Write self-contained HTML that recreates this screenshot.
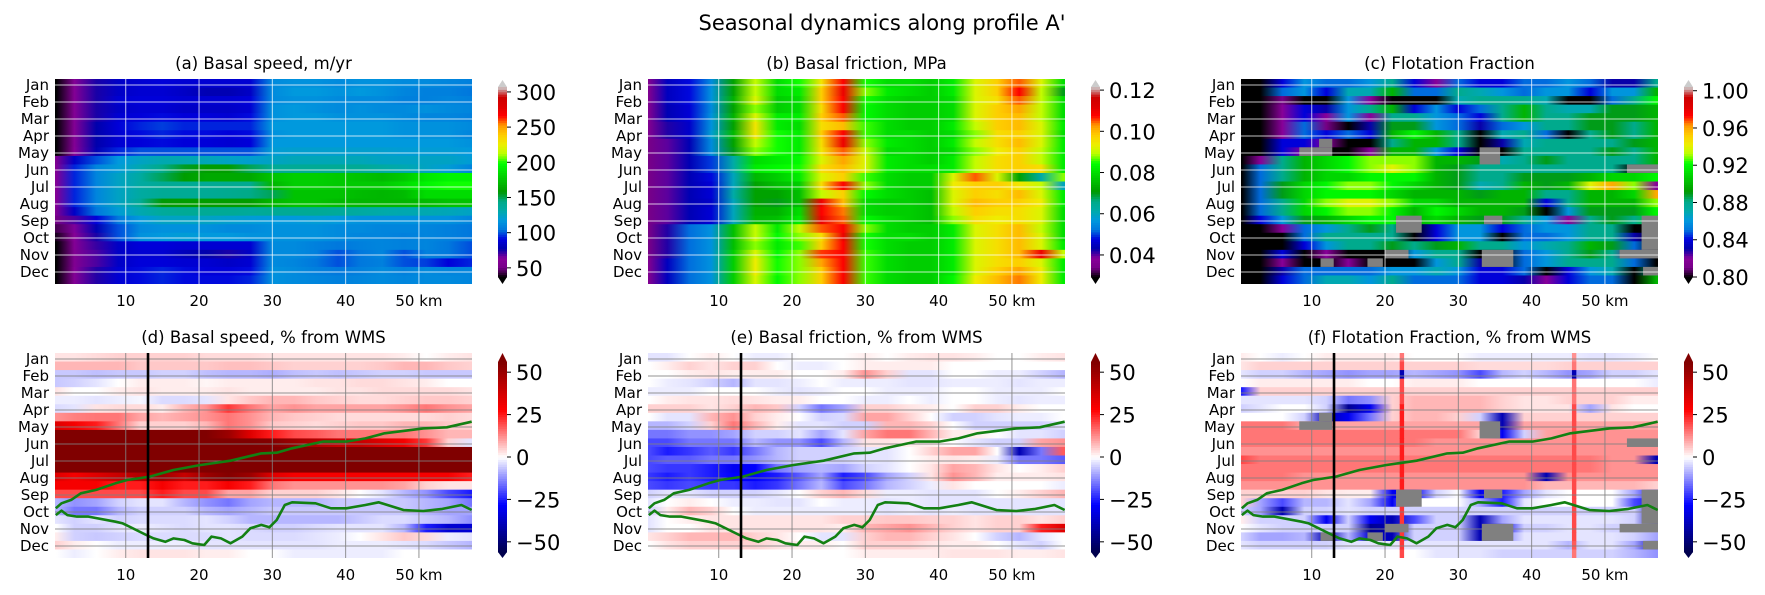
<!DOCTYPE html>
<html><head><meta charset="utf-8"><style>
html,body{margin:0;padding:0;background:#fff;}
svg{display:block;font-family:"DejaVu Sans","Liberation Sans",sans-serif;}
</style></head><body>
<svg id="fig" width="1765" height="595" viewBox="0 0 1765 595" xmlns="http://www.w3.org/2000/svg">
<text x="882" y="30" text-anchor="middle" font-size="21">Seasonal dynamics along profile A'</text>
</svg>
<script>
// ---------- data ----------
const months = ["Jan","Feb","Mar","Apr","May","Jun","Jul","Aug","Sep","Oct","Nov","Dec"];
const kmTicks = [10,20,30,40,50];
const kmTickLabels = ["10","20","30","40","50 km"];
const colKm = [0.5,3,6,9,12,15,18,21,24,27,30,33,36,39,42,45,48,51,54,57];

const speedA = [
[34,60,75,85,88,90,88,88,88,88,112,115,115,112,115,115,112,112,110,108],
[34,60,75,85,88,88,85,80,80,85,112,118,118,115,118,115,110,108,108,105],
[34,60,75,88,90,90,88,88,88,90,112,115,115,112,112,112,108,108,110,108],
[34,60,75,85,88,88,85,85,85,88,115,118,115,112,115,112,112,115,112,110],
[34,60,75,88,90,92,90,90,88,92,115,118,118,115,115,115,112,110,110,108],
[34,60,78,90,95,98,95,95,95,95,118,118,118,118,118,118,115,115,115,112],
[34,60,78,88,92,95,92,92,90,92,115,118,118,118,118,118,115,115,115,110],
[34,60,78,88,90,92,90,90,88,90,118,118,118,118,118,118,118,118,118,115],
[36,62,80,95,100,100,100,100,100,100,120,122,122,122,122,122,120,120,120,118],
[55,85,100,118,125,130,130,128,125,122,125,128,128,128,128,125,125,125,125,120],
[58,95,110,120,130,145,155,160,160,150,140,140,140,140,140,135,130,125,120,110],
[60,95,110,125,135,150,160,165,165,165,175,180,180,178,175,172,178,190,195,195],
[60,95,110,125,135,140,140,140,142,142,170,180,180,178,178,178,185,195,200,200],
[60,95,110,125,135,140,140,140,142,145,150,175,175,175,172,170,172,185,185,185],
[60,95,110,125,140,158,160,160,160,160,170,175,175,172,170,170,170,172,175,175],
[58,85,105,120,130,138,140,140,140,138,140,140,140,138,135,132,130,130,128,125],
[50,70,90,105,118,125,125,125,122,120,118,118,120,118,115,115,115,115,115,110],
[45,65,80,100,112,115,115,115,112,112,115,115,115,112,112,110,110,110,108,105],
[40,62,75,100,115,118,120,118,118,115,115,115,115,112,110,110,108,110,108,105],
[34,60,72,85,90,90,88,88,88,88,112,112,108,105,108,110,108,110,105,100],
[34,58,70,85,88,88,82,78,75,85,112,112,108,100,105,110,100,108,105,100],
[34,58,70,85,90,90,88,88,85,88,112,110,105,100,105,108,100,98,90,95],
[34,60,74,88,92,95,92,90,90,92,115,112,108,105,108,112,108,112,110,110],
[34,60,74,88,92,95,92,92,92,95,115,112,110,108,110,112,110,112,112,110]];

// basal friction in kPa (0.001 MPa)
const frictionB = [
[36,45,48,55,72,90,80,85,95,108,85,80,80,78,82,92,98,105,92,80],
[36,45,48,56,72,90,80,82,98,110,88,82,80,78,82,92,98,108,90,70],
[36,45,48,56,74,92,78,80,98,108,85,80,78,78,80,92,96,105,90,80],
[36,44,47,55,72,88,78,80,96,108,84,80,78,78,80,92,98,102,90,80],
[36,44,47,56,74,92,82,82,98,105,84,80,78,78,80,92,98,100,90,80],
[36,42,46,56,72,95,82,80,96,100,86,80,78,78,82,90,98,100,92,82],
[36,42,46,58,75,95,85,82,98,108,86,80,80,78,80,88,96,98,92,80],
[34,40,44,55,72,90,85,82,96,110,88,82,80,78,82,90,96,100,92,82],
[34,40,44,55,70,88,85,82,95,105,90,80,80,78,80,88,94,98,90,82],
[34,40,44,50,62,80,82,84,92,102,92,82,80,78,82,90,96,98,90,82],
[34,40,44,50,62,82,84,85,96,100,92,82,80,80,82,90,96,98,96,82],
[34,40,44,48,60,75,78,82,92,98,86,80,78,78,92,105,92,72,62,88],
[34,40,44,47,60,72,76,78,96,108,88,80,78,78,94,98,98,95,90,60],
[34,40,44,47,62,72,72,76,90,98,84,80,78,76,92,98,96,100,92,82],
[34,40,44,46,60,72,70,76,110,100,80,78,78,76,92,100,98,98,94,82],
[34,40,44,47,60,74,74,80,108,104,80,78,78,76,90,98,96,96,92,80],
[34,40,44,47,60,75,76,82,110,105,84,80,78,76,88,96,94,96,92,80],
[34,42,52,56,76,90,82,90,105,108,88,80,78,78,82,92,96,100,90,80],
[34,42,52,56,76,90,84,88,96,110,85,80,80,78,82,92,96,100,92,80],
[34,42,52,56,76,88,82,86,98,108,85,80,78,78,82,92,96,100,92,82],
[34,42,52,56,78,92,84,88,106,108,86,80,78,78,82,92,96,100,110,90],
[36,45,52,56,78,94,85,88,102,108,86,80,78,78,82,92,96,98,92,82],
[36,45,52,56,78,94,85,88,98,108,86,80,78,78,82,92,98,102,94,82],
[36,45,52,56,78,92,84,88,98,108,86,80,78,78,84,94,100,104,94,82]];

// flotation fraction in percent
const flotC = [
[78,78,84,86,85,85,86,88,84,82,85,84,84,85,85,86,85,83,83,88],
[78,78,85,86,84,87,87,90,85,85,88,87,86,85,86,86,84,86,86,90],
[78,78,81,78,78,86,82,78,78,78,87,88,88,88,87,78,78,85,88,92],
[78,78,82,84,83,86,88,90,84,86,84,85,88,90,88,87,87,89,89,90],
[78,78,82,84,82,86,82,88,88,86,85,84,88,90,88,88,89,89,89,90],
[78,78,82,85,81,79,83,89,89,86,85,83,85,86,88,88,89,89,88,90],
[78,78,82,85,84,85,84,90,92,90,88,79,87,88,85,78,88,89,88,90],
[78,78,84,84,82,79,79,88,90,90,88,79,83,87,88,88,88,88,89,90],
[78,78,84,82,79,79,82,90,90,86,84,79,79,88,88,88,88,89,88,90],
[78,82,88,90,91,92,93,93,93,90,90,89,87,88,89,88,88,88,88,90],
[78,85,88,90,91,92,93,94,93,90,89,88,88,88,88,88,88,88,80,88],
[78,85,88,90,91,91,92,92,92,90,89,88,88,89,89,89,90,91,91,92],
[78,85,89,91,92,93,93,92,91,90,89,87,88,90,89,90,94,96,93,82],
[78,85,89,91,92,92,92,91,90,90,90,89,90,90,88,88,90,90,91,96],
[78,85,88,91,93,94,94,93,91,91,90,90,90,90,84,88,90,90,90,93],
[78,85,88,91,92,93,93,92,90,92,91,90,90,89,79,86,89,89,89,92],
[78,84,86,89,90,91,92,92,90,91,90,89,89,88,86,82,88,89,88,91],
[78,80,82,85,86,88,89,88,79,84,86,86,84,85,86,86,88,88,80,79],
[78,78,80,85,88,88,88,88,80,84,86,86,78,85,85,86,88,88,83,79],
[78,78,80,84,86,88,88,89,88,89,90,88,88,86,87,88,90,89,85,79],
[78,78,84,79,82,79,79,78,86,88,88,80,78,85,86,88,89,88,82,79],
[78,78,82,79,80,82,79,78,79,86,88,83,79,85,86,88,88,88,85,80],
[78,78,83,85,85,85,85,86,86,87,86,84,84,85,78,84,86,87,80,88],
[78,78,84,85,87,87,86,88,85,85,85,84,84,83,82,84,85,85,80,90]];

const speedPct = [
[3,3,4,5,5,5,5,4,4,4,3,3,3,3,3,3,2,0,2,3],
[8,8,8,8,6,6,6,6,7,7,6,5,5,5,5,6,8,8,6,5],
[-6,-6,-7,-6,-6,-5,-5,-7,-8,-8,-9,-7,-6,-7,-6,-5,-5,-6,-6,-6],
[-6,-5,-3,0,2,2,2,1,2,2,2,2,3,3,4,4,3,2,0,0],
[3,0,0,2,3,2,2,2,3,2,2,2,2,3,3,4,4,4,4,3],
[-2,-2,-3,-2,-1,-4,-4,-3,3,6,8,8,6,5,4,4,5,6,6,5],
[-4,-3,3,4,4,2,8,12,22,15,10,12,10,10,10,10,12,15,12,10],
[12,14,15,15,10,8,10,12,15,12,8,6,5,4,4,4,4,4,5,4],
[35,30,25,15,5,5,5,8,15,12,6,5,4,5,6,6,8,8,6,5],
[60,60,60,60,60,60,60,60,50,35,25,20,18,15,15,15,15,12,8,8],
[60,60,60,60,60,60,60,60,60,60,55,50,45,40,40,35,30,22,5,-3],
[60,60,60,60,60,60,60,60,60,60,60,60,60,60,60,60,60,60,60,60],
[60,60,60,60,60,60,60,60,60,60,60,60,60,60,60,60,60,60,60,60],
[60,60,60,60,60,60,60,60,60,60,60,60,60,60,60,60,60,60,60,60],
[35,30,35,40,45,50,40,50,55,50,35,30,30,30,30,30,30,30,30,25],
[30,30,30,25,25,30,25,25,30,25,15,12,12,12,12,12,10,5,3,3],
[20,20,20,20,20,25,20,20,10,10,5,5,5,3,0,-3,-8,-12,-20,-25],
[-8,-12,-10,-5,-3,-3,-8,-12,-15,-10,-8,-8,-8,-6,-6,-6,-6,-8,-10,-15],
[-8,-15,-15,-8,-5,-5,-5,-8,-10,-8,-6,-6,-6,-6,-6,-6,-6,-8,-10,-10],
[-3,-5,-3,-5,-4,-4,-4,-3,-5,-8,-8,-8,-8,-8,-6,-4,-4,-6,-8,-12],
[0,-5,-5,-3,-2,-3,-4,-3,-3,-4,-5,-5,-4,-3,-3,-3,-8,-25,-35,-35],
[2,-5,-6,-5,-4,-4,-4,-4,-3,-4,-4,-4,-3,-2,0,3,6,4,-2,-3],
[5,2,0,-2,-2,-2,-2,-3,-3,-3,-3,-3,-3,-2,-2,-2,-3,-4,-6,-8],
[0,-2,0,2,3,3,3,2,2,0,0,-2,-2,-2,-2,-2,0,0,0,0]];

const frictionPct = [
[-3,-3,0,2,0,-2,-2,0,0,0,2,0,2,3,3,2,0,0,2,3],
[0,2,5,3,5,5,0,-2,-2,0,2,2,2,2,0,0,0,0,0,0],
[0,0,2,3,2,2,2,0,0,2,12,5,-3,-3,0,0,-2,-2,-5,-8],
[0,-2,-3,-5,-8,-3,-3,-2,0,-2,-2,-2,-3,-3,-2,-2,-2,-3,-2,-2],
[-2,-2,-2,0,0,0,-2,-3,-2,0,0,-2,-2,-2,0,0,-2,-2,-2,0],
[0,2,3,3,4,3,2,2,0,0,-2,-2,0,-2,0,0,-2,-3,-2,-2],
[5,5,5,3,5,8,6,-5,-15,-10,5,5,3,2,0,5,5,2,0,0],
[0,-3,-3,8,12,5,2,0,-5,-4,10,10,5,0,-5,-5,-3,-2,-2,0],
[-8,-8,-5,5,15,8,2,-3,-3,-5,-5,8,8,5,0,-5,-5,-5,-5,-3],
[-15,-15,-12,-12,-10,-5,-5,-3,-10,-3,10,15,15,8,2,2,0,-3,-3,-5],
[-20,-20,-15,-15,-15,-8,-12,-12,-20,-8,3,3,2,2,0,-3,-5,-5,10,12],
[-20,-25,-22,-18,-22,-15,-8,-5,-5,-5,-3,-3,0,5,10,10,0,-40,-15,18],
[-20,-18,-18,-15,-15,-12,-8,-5,-5,-5,-3,-3,0,2,3,2,-2,-15,-15,-18],
[-20,-22,-22,-25,-30,-28,-15,-10,-8,-10,-5,-3,0,3,10,8,3,0,2,5],
[-22,-25,-22,-25,-28,-28,-25,-18,-10,-25,-20,-10,-5,3,12,8,2,2,2,3],
[-20,-22,-20,-22,-22,-25,-22,-15,-8,-20,-15,-8,-5,-2,3,0,0,0,0,-2],
[-5,-3,-3,-5,-5,-5,-3,0,5,8,4,-2,-2,-3,-3,-3,0,2,5,8],
[-3,0,2,0,-2,-2,-3,-3,0,-2,-2,-3,-2,-3,-3,-3,-3,-3,-3,-3],
[-5,2,8,5,0,-2,-2,-2,-2,-2,-2,-3,-2,-3,-2,-3,-3,-3,-3,-3],
[-3,0,2,3,3,3,3,3,3,5,5,6,6,5,5,3,5,5,3,5],
[-3,0,0,3,3,3,3,3,3,2,8,10,12,8,5,3,5,5,25,35],
[3,5,8,8,8,5,3,0,-3,-3,5,8,8,5,3,0,-5,-8,-3,0],
[0,3,5,5,5,5,3,2,2,0,5,5,5,3,2,2,0,-3,-5,0],
[0,0,0,0,0,0,0,0,0,0,2,2,2,2,3,3,3,2,2,3]];

const flotPct = [
[2,0,-2,0,2,2,2,2,0,0,0,-2,-2,-2,-2,-2,-3,-3,-2,0],
[3,5,5,5,5,5,5,5,5,5,5,4,4,4,4,5,5,5,5,5],
[-3,-5,-5,-8,-10,-12,-10,-10,-8,-10,-12,-20,-8,-5,-8,-12,-10,-5,-5,-3],
[0,2,2,2,2,2,0,0,2,2,2,0,0,0,0,0,0,0,0,-2],
[-25,5,5,5,5,5,5,5,5,5,5,5,5,5,5,5,5,5,5,5],
[-3,-3,-3,-3,-5,-15,-12,5,8,8,8,8,5,3,3,5,5,5,2,2],
[-5,-3,0,0,-5,-45,-30,5,8,8,8,8,5,3,3,3,-10,3,0,0],
[0,0,0,-5,-40,-30,-15,5,8,8,5,-5,-40,5,5,5,5,5,5,5],
[15,15,15,10,10,10,10,10,10,10,10,10,-40,10,10,10,10,10,10,10],
[15,15,15,15,15,15,15,15,15,15,15,5,-30,-5,10,12,12,12,12,12],
[15,15,15,15,15,15,15,15,15,12,12,12,12,12,12,12,12,12,12,12],
[12,12,12,12,12,12,12,12,12,12,12,12,12,12,12,12,12,12,12,12],
[20,15,15,15,15,15,15,15,15,15,15,15,15,15,15,15,15,12,12,-40],
[15,15,15,15,15,15,15,15,15,15,15,15,15,15,15,15,15,12,12,12],
[15,15,15,12,12,12,12,12,12,12,12,12,12,12,-40,12,12,12,12,12],
[12,12,12,12,12,12,12,12,12,12,12,12,12,12,8,8,8,8,8,5],
[5,5,5,5,3,2,2,-30,-30,-5,0,-30,-25,-10,-3,0,0,0,-10,-30],
[5,-10,-20,-8,-8,-3,-10,-30,0,0,0,-10,-25,-3,0,0,0,0,-20,-30],
[-5,-10,-40,-5,-5,-3,-5,-5,-5,-5,-5,-5,-5,-5,-5,-5,-5,-5,-5,-40],
[2,-5,-5,-5,-30,-5,-30,-40,-20,-5,-5,-40,-10,-3,-3,-3,-3,-3,-5,-40],
[0,-3,-5,-5,-5,-5,-45,-40,-5,-5,-5,-40,-30,-5,-5,-3,-3,-5,-5,-5],
[-5,-10,-10,-8,-40,-8,-35,-40,-5,-5,-5,-40,-15,-3,-3,-3,-3,-3,-5,-10],
[-3,-5,-5,-5,-5,-3,-3,-3,-3,-3,-3,-3,-3,-3,-3,-8,-3,-3,-10,-40],
[0,0,0,0,0,0,0,0,0,-3,-3,-3,-5,-5,-5,-5,-5,-5,-8,-12]];

const ridgeKm = [22.3,45.8];
const ridgeA = [15,20,-40,20,20,20,25,25,25,25,25,25,25,25,25,25,22,22,22,22,22,22,22,20];
const ridgeB = [12,15,-40,15,15,15,20,20,20,20,20,20,20,20,20,20,20,20,20,20,20,20,18,15];

// NaN patches: [kmStart, kmEnd, rowStart, rowEnd]
const nanPatches = [[8.3,12.8,8,9],[11,12.8,7,8],[32.9,35.7,8,10],[53,57.3,10,11],[21.5,25,16,18],[33.5,36,16,17],[55,57.3,16,20],[20,23.2,20,21],[11.2,13,21,22],[17.6,19.7,21,22],[33.2,37.5,20,22],[52,57.3,20,21],[55.2,57.3,22,23]];

const upperKm = [0.46,1.24,2.56,3.87,5.97,8.6,10.2,13.3,16.5,20.1,24.3,28.5,30.6,32.7,36.9,40.1,42.7,45.3,50.6,53.8,57.2];
const upperMon = [8.78,8.49,8.29,7.9,7.7,7.31,7.12,6.92,6.53,6.24,5.98,5.55,5.51,5.25,4.86,4.86,4.67,4.37,4.08,4.02,3.69];
const lowerKm = [0.46,1.24,2.04,3.35,4.9,8.6,9.6,12.8,13.8,15.4,16.5,18.0,19.1,20.7,21.7,23.0,24.3,25.9,27.0,28.5,29.6,30.6,31.7,32.7,35.9,38.0,40.1,42.7,44.5,47.9,50.6,53.2,55.8,57.2];
const lowerMon = [9.18,8.92,9.18,9.27,9.27,9.57,9.67,10.35,10.55,10.75,10.55,10.65,10.84,10.94,10.45,10.55,10.84,10.45,9.96,9.76,9.9,9.47,8.59,8.43,8.49,8.78,8.78,8.59,8.43,8.88,8.94,8.82,8.59,8.88];
const profileKm = 13.04;

const cbTicksA = [50,100,150,200,250,300], cbLabelsA = ["50","100","150","200","250","300"];
const cbTicksB = [40,60,80,100,120], cbLabelsB = ["0.04","0.06","0.08","0.10","0.12"];
const cbTicksC = [80,84,88,92,96,100], cbLabelsC = ["0.80","0.84","0.88","0.92","0.96","1.00"];
const cbTicksP = [-50,-25,0,25,50], cbLabelsP = ["\u221250","\u221225","0","25","50"];

// ---------- colormaps ----------
const NR=[[0,0],[.05,.4667],[.1,.5333],[.15,0],[.6,0],[.65,.7333],[.7,.9333],[.75,1],[.85,1],[.9,.8667],[.95,.8],[1,.8]];
const NG=[[0,0],[.2,0],[.25,.4667],[.3,.6],[.35,.6667],[.4,.6667],[.45,.6],[.5,.7333],[.55,.8667],[.6,1],[.65,1],[.7,.9333],[.75,.8],[.8,.6],[.85,0],[.95,0],[1,.8]];
const NB=[[0,0],[.05,.5333],[.1,.6],[.15,.6667],[.2,.8667],[.3,.8667],[.35,.6667],[.4,.5333],[.45,0],[.95,0],[1,.8]];
function seg(t,s){for(let i=1;i<s.length;i++){if(t<=s[i][0]){const a=s[i-1],b=s[i];const f=(t-a[0])/(b[0]-a[0]||1);return a[1]+(b[1]-a[1])*f;}}return s[s.length-1][1];}
function rgb(r,g,b){return `rgb(${Math.round(r*255)},${Math.round(g*255)},${Math.round(b*255)})`;}
function nipy(t){if(t<0)return "#000";if(t>1)return "#ccc";return rgb(seg(t,NR),seg(t,NG),seg(t,NB));}
const SR=[[0,0],[.25,0],[.5,1],[.75,1],[1,.5]],SG=[[0,0],[.25,0],[.5,1],[.75,0],[1,0]],SB=[[0,.3],[.25,1],[.5,1],[.75,0],[1,0]];
function seismic(t){t=Math.max(0,Math.min(1,t));return rgb(seg(t,SR),seg(t,SG),seg(t,SB));}

// ---------- layout ----------
const NS="http://www.w3.org/2000/svg";
const svg=document.getElementById('fig');
const defs=document.createElementNS(NS,'defs');svg.appendChild(defs);
const lefts=[55,648,1241], tops=[79,353], PW=417, PH=205, KM0=0.35, PXKM=7.33;
const cbX=[498,1091,1684];
function mk(tag,attrs,parent){const e=document.createElementNS(NS,tag);for(const k in attrs)e.setAttribute(k,attrs[k]);(parent||svg).appendChild(e);return e;}
let gid=0;

const panels=[
 {key:'a',title:'(a) Basal speed, m/yr',data:speedA,cm:nipy,vmin:37,vmax:307,row:0,col:0,ticks:cbTicksA,labels:cbLabelsA,grid:'rgba(255,255,255,0.75)'},
 {key:'b',title:'(b) Basal friction, MPa',data:frictionB,cm:nipy,vmin:29.3,vmax:121.5,row:0,col:1,ticks:cbTicksB,labels:cbLabelsB,grid:'rgba(255,255,255,0.75)'},
 {key:'c',title:'(c) Flotation Fraction',data:flotC,cm:nipy,vmin:80,vmax:100.4,row:0,col:2,ticks:cbTicksC,labels:cbLabelsC,grid:'rgba(255,255,255,0.75)',nan:true},
 {key:'d',title:'(d) Basal speed, % from WMS',data:speedPct,cm:seismic,vmin:-56,vmax:56,row:1,col:0,ticks:cbTicksP,labels:cbLabelsP,grid:'rgba(128,128,128,0.85)',lines:true},
 {key:'e',title:'(e) Basal friction, % from WMS',data:frictionPct,cm:seismic,vmin:-56,vmax:56,row:1,col:1,ticks:cbTicksP,labels:cbLabelsP,grid:'rgba(128,128,128,0.85)',lines:true},
 {key:'f',title:'(f) Flotation Fraction, % from WMS',data:flotPct,cm:seismic,vmin:-56,vmax:56,row:1,col:2,ticks:cbTicksP,labels:cbLabelsP,grid:'rgba(128,128,128,0.85)',lines:true,nan:true,ridges:true}
];

panels.forEach(p=>{
  const L=lefts[p.col], T=tops[p.row];
  const xS=k=>L+(k-KM0)*PXKM;
  const yM=m=>T+6+17*m;
  const norm=v=>(v-p.vmin)/(p.vmax-p.vmin);
  const g=mk('g',{});
  
  
  const clipId='clip'+p.key;
  const cp=mk('clipPath',{id:clipId},defs);mk('rect',{x:L,y:T,width:PW,height:PH},cp);
  const hm=mk('g',{'clip-path':`url(#${clipId})`},g);
  
  
  const rh=PH/p.data.length;
  const x1=xS(colKm[0]), x2=xS(colKm[colKm.length-1]);
  p.data.forEach((rowVals,r)=>{
    const id='gr'+(gid++);
    const lg=mk('linearGradient',{id:id,gradientUnits:'userSpaceOnUse',x1:x1,y1:0,x2:x2,y2:0},defs);
    rowVals.forEach((v,j)=>{mk('stop',{offset:((xS(colKm[j])-x1)/(x2-x1)).toFixed(4),'stop-color':p.cm(norm(v))},lg);});
    const rc=mk('rect',{x:L,y:(T+r*rh).toFixed(2),width:PW,height:(rh+0.6).toFixed(2),fill:`url(#${id})`},hm);
    
    
  });
  if(p.ridges){
    [ridgeA,ridgeB].forEach((vals,i)=>{
      vals.forEach((v,r)=>{
        const rr=mk('rect',{x:xS(ridgeKm[i]-0.3),y:(T+r*rh).toFixed(2),width:PXKM*0.6,height:(rh+0.6).toFixed(2),fill:p.cm(norm(v))},hm);
        
        
      });
    });
  }
  if(p.nan){
    nanPatches.forEach(n=>{
      const nr=mk('rect',{x:xS(n[0]),y:T+n[2]*rh,width:xS(n[1])-xS(n[0]),height:(n[3]-n[2])*rh,fill:'#808080'},hm);
      
      
    });
  }
  // grid
  months.forEach((m,i)=>{
    const gl=mk('line',{x1:L,x2:L+PW,y1:yM(i),y2:yM(i),stroke:p.grid,'stroke-width':1},g);
    
    
    const t=mk('text',{x:L-6,y:yM(i)+5,'text-anchor':'end','font-size':15},g);t.textContent=m;
    
    
  });
  kmTicks.forEach((k,i)=>{
    const gl=mk('line',{x1:xS(k),x2:xS(k),y1:T,y2:T+PH,stroke:p.grid,'stroke-width':1},g);
    
    
    const t=mk('text',{x:xS(k),y:T+PH+22,'text-anchor':'middle','font-size':15},g);t.textContent=kmTickLabels[i];
    
    
  });
  const tt=mk('text',{x:L+PW/2,y:T-10,'text-anchor':'middle','font-size':16.5},g);tt.textContent=p.title;
  
  
  if(p.lines){
    const lc=mk('g',{'clip-path':`url(#${clipId})`},g);
    const up=mk('polyline',{points:upperKm.map((k,i)=>xS(k).toFixed(1)+','+yM(upperMon[i]).toFixed(1)).join(' '),fill:'none',stroke:'#138013','stroke-width':2.6,'stroke-linejoin':'round'},lc);
    
    
    const lo=mk('polyline',{points:lowerKm.map((k,i)=>xS(k).toFixed(1)+','+yM(lowerMon[i]).toFixed(1)).join(' '),fill:'none',stroke:'#138013','stroke-width':2.6,'stroke-linejoin':'round'},lc);
    
    
    const bl=mk('line',{x1:xS(profileKm),x2:xS(profileKm),y1:T,y2:T+PH,stroke:'#000','stroke-width':2.6},g);
    
    
  }
  // colorbar
  const cx=cbX[p.col], cw=9;
  const bTop=p.row===0?87:362, bBot=p.row===0?277:552, tipT=p.row===0?80:353, tipB=p.row===0?284:558;
  const cb=mk('g',{},g);
  
  
  const N=80;
  for(let i=0;i<N;i++){
    const y0=bBot-(i+1)*(bBot-bTop)/N;
    mk('rect',{x:cx,y:y0.toFixed(2),width:cw,height:((bBot-bTop)/N+0.5).toFixed(2),fill:p.cm((i+0.5)/N)},cb);
  }
  const overC=p.cm===nipy?'#ccc':p.cm(1), underC=p.cm===nipy?'#000':p.cm(0);
  mk('polygon',{points:`${cx},${bTop} ${cx+cw},${bTop} ${cx+cw/2},${tipT}`,fill:overC},cb);
  mk('polygon',{points:`${cx},${bBot} ${cx+cw},${bBot} ${cx+cw/2},${tipB}`,fill:underC},cb);
  p.ticks.forEach((v,i)=>{
    const y=bBot-norm(v)*(bBot-bTop);
    mk('line',{x1:cx+cw,x2:cx+cw+4,y1:y,y2:y,stroke:'#000','stroke-width':1},cb);
    const t=mk('text',{x:cx+cw+9,y:y+8,'font-size':21},cb);t.textContent=p.labels[i];
    
    
  });
});
</script>
</body></html>
